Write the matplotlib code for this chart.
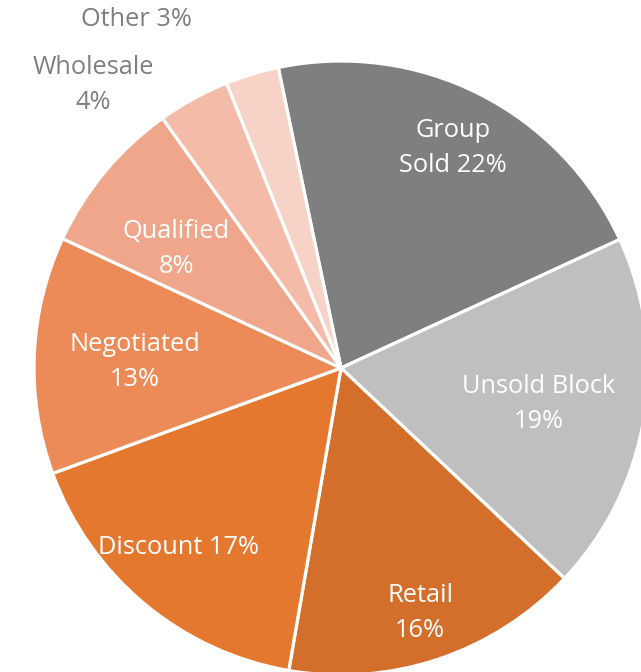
import matplotlib
matplotlib.use("Agg")
import matplotlib.pyplot as plt

plt.rcParams["font.family"] = ["Open Sans", "DejaVu Sans"]

categories = ["Group Sold", "Unsold Block", "Retail", "Discount",
              "Negotiated", "Qualified", "Wholesale", "Other"]
shares = [21.4, 18.9, 15.7, 16.7, 12.5, 8.2, 3.8, 2.8]
labels = ["Group\nSold 22%", "Unsold Block\n19%", "Retail\n16%", "Discount 17%",
          "Negotiated\n13%", "Qualified\n8%", "Wholesale\n4%", "Other 3%"]

colors = ["#7f7f7f", "#bfbfbf", "#d46f2b", "#e4782f",
          "#ed8b58", "#f0a68a", "#f4bca8", "#f7d2c6"]
# label centres in pixel-like data units (origin = pie centre, y up)
label_pos = [(112, 220), (198, -36), (79, -245), (-163, -179),
             (-206, 6), (-165, 119), (-248, 283), (-205, 348)]
label_color = ["white"] * 6 + ["#7f7f7f"] * 2


def main():
    fig = plt.figure(figsize=(6.41, 6.72), dpi=100)
    ax = fig.add_axes([0, 0, 1, 1])

    ax.pie(shares, colors=colors, startangle=90 + 11.8, counterclock=False,
           radius=307, center=(0, 0),
           wedgeprops=dict(edgecolor="white", linewidth=2.3))

    for txt, (x, y), c in zip(labels, label_pos, label_color):
        ax.text(x, y, txt, ha="center", va="center", color=c,
                fontsize=18.3, linespacing=1.5)

    ax.set_xlim(-341, 300)
    ax.set_ylim(-304, 368)
    ax.set_aspect("equal")
    ax.axis("off")

    fig.savefig("out.png", dpi=100, facecolor="white")


if __name__ == "__main__":
    main()
